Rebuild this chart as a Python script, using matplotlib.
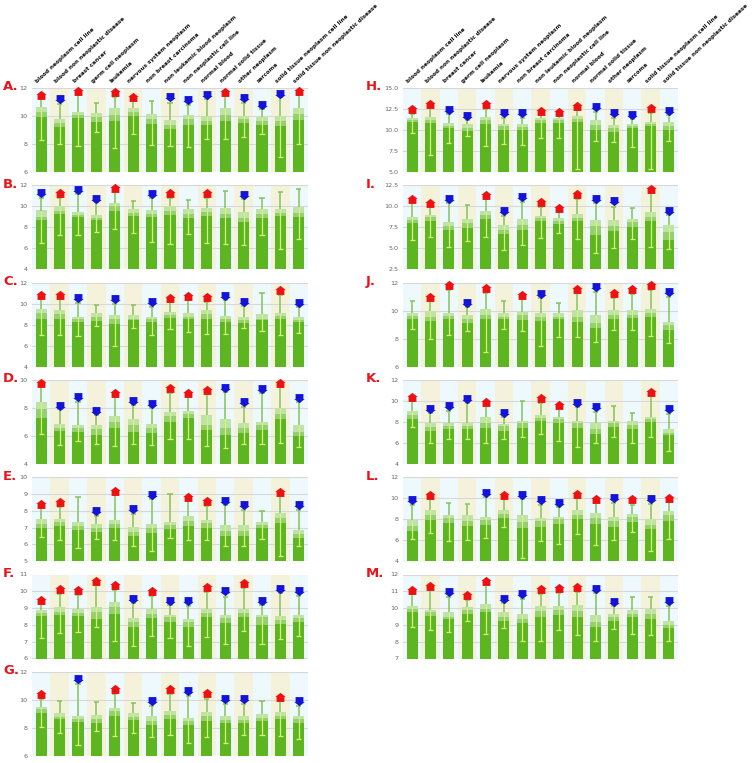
import numpy as np
import matplotlib
matplotlib.use("Agg")
import matplotlib.pyplot as plt
from matplotlib.path import Path

categories = ["blood neoplasm cell line", "blood non neoplastic disease", "breast cancer",
              "germ cell neoplasm", "leukemia", "nervous system neoplasm",
              "non breast carcinoma", "non leukemic blood neoplasm", "non neoplastic cell line",
              "normal blood", "normal solid tissue", "other neoplasm", "sarcoma",
              "solid tissue neoplasm cell line", "solid tissue non neoplastic disease"]

panel_letters = ["A.", "B.", "C.", "D.", "E.", "F.", "G.", "H.", "I.", "J.", "K.", "L.", "M."]
y_lo = [6, 4, 4, 4, 5, 6, 6, 5, 2.5, 6, 4, 4, 7]
y_hi = [12, 12, 12, 10, 10, 11, 12, 15, 12.5, 12, 12, 12, 12]
y_step = [2, 2, 2, 2, 1, 1, 2, 2.5, 2.5, 2, 2, 2, 1]

# top of the dark green part of each bar
dark_top = [
    [9.91, 9.19, 9.84, 9.6, 9.62, 10.0, 9.43, 9.07, 9.38, 9.36, 9.62, 9.5, 9.36, 9.29, 9.72],
    [8.72, 9.3, 8.95, 8.65, 9.55, 9.1, 8.95, 9.17, 8.88, 9.1, 8.88, 8.46, 8.9, 9.04, 8.95],
    [8.5, 8.5, 8.25, 8.35, 8.1, 8.45, 8.25, 8.6, 8.55, 8.5, 8.25, 8.2, 8.4, 8.5, 8.25],
    [7.3, 6.35, 6.3, 6.05, 6.6, 6.3, 6.2, 7.0, 7.25, 6.45, 6.1, 6.2, 6.45, 7.2, 6.0],
    [7.0, 7.12, 6.88, 6.76, 7.0, 6.48, 6.66, 6.92, 7.12, 7.0, 6.48, 6.48, 7.0, 7.3, 6.36],
    [8.52, 8.56, 8.52, 8.38, 8.64, 7.88, 8.44, 8.2, 7.88, 8.48, 8.12, 8.48, 8.02, 8.08, 8.16],
    [9.08, 8.6, 8.41, 8.36, 8.84, 8.56, 8.17, 8.65, 8.22, 8.5, 8.36, 8.32, 8.46, 8.65, 8.36],
    [10.92, 10.84, 10.2, 9.88, 10.76, 10.04, 9.96, 10.84, 10.84, 10.92, 10.04, 9.8, 10.28, 10.52, 10.04],
    [8.06, 8.29, 7.18, 7.42, 8.53, 6.71, 7.18, 8.21, 7.9, 8.21, 6.55, 7.1, 7.58, 8.29, 5.93],
    [9.42, 9.27, 9.42, 9.13, 9.37, 9.37, 9.32, 9.27, 9.37, 9.18, 8.75, 9.42, 9.46, 9.51, 8.6],
    [8.31, 7.1, 7.29, 7.29, 7.41, 7.16, 7.41, 8.05, 7.86, 7.41, 6.84, 7.48, 7.29, 7.99, 6.71],
    [6.86, 7.94, 7.68, 7.37, 7.49, 8.13, 7.17, 7.3, 7.56, 8.06, 7.56, 7.3, 7.75, 7.11, 7.87],
    [9.74, 9.54, 9.34, 9.62, 9.74, 9.26, 9.14, 9.5, 9.58, 9.46, 8.9, 9.22, 9.46, 9.38, 8.79],
]

# top of the middle green part
mid_top = [
    [10.32, 9.5, 10.1, 9.94, 10.1, 10.27, 9.79, 9.36, 9.79, 9.62, 10.1, 9.77, 9.67, 9.62, 10.15],
    [9.0, 9.6, 9.2, 8.9, 10.0, 9.4, 9.3, 9.6, 9.3, 9.5, 9.3, 8.9, 9.3, 9.35, 9.35],
    [9.1, 9.0, 8.5, 8.75, 8.55, 8.55, 8.5, 8.9, 8.75, 9.0, 8.5, 8.45, 8.55, 8.8, 8.45],
    [7.9, 6.6, 6.55, 6.5, 7.0, 6.75, 6.55, 7.4, 7.55, 6.8, 6.55, 6.6, 6.8, 7.6, 6.3],
    [7.22, 7.36, 7.12, 7.0, 7.2, 6.76, 6.96, 7.16, 7.4, 7.26, 6.8, 6.8, 7.16, 7.6, 6.6],
    [8.72, 8.76, 8.72, 8.76, 9.04, 8.2, 8.64, 8.48, 8.16, 8.68, 8.4, 8.72, 8.48, 8.32, 8.4],
    [9.32, 8.79, 8.6, 8.65, 9.18, 8.75, 8.5, 8.89, 8.46, 8.84, 8.56, 8.56, 8.7, 8.84, 8.6],
    [11.16, 11.24, 10.52, 10.28, 11.24, 10.44, 10.36, 11.16, 11.16, 11.32, 10.6, 10.2, 10.52, 10.76, 10.44],
    [8.37, 8.69, 7.66, 7.98, 8.93, 7.18, 7.82, 8.61, 8.29, 8.61, 7.66, 7.66, 8.13, 8.77, 6.94],
    [9.61, 9.56, 9.61, 9.42, 9.7, 9.56, 9.66, 9.56, 9.56, 9.51, 9.08, 9.7, 9.7, 9.85, 8.94],
    [8.62, 7.48, 7.61, 7.61, 7.92, 7.61, 7.86, 8.37, 8.24, 7.92, 7.29, 7.86, 7.73, 8.24, 6.97],
    [7.37, 8.44, 8.13, 7.87, 7.94, 8.51, 7.75, 7.81, 8.0, 8.44, 8.13, 7.81, 8.19, 7.43, 8.38],
    [9.94, 9.78, 9.5, 9.86, 9.94, 9.46, 9.38, 9.82, 9.86, 9.82, 9.18, 9.46, 9.66, 9.66, 8.98],
]

# top of the pale green part (top of the bar)
light_top = [
    [10.63, 9.8, 10.32, 10.2, 10.56, 10.56, 10.13, 9.7, 10.1, 9.98, 10.56, 9.98, 9.96, 9.98, 10.56],
    [9.6, 10.0, 9.5, 9.2, 10.35, 9.7, 9.65, 10.0, 9.7, 9.8, 9.8, 9.5, 9.75, 9.7, 9.9],
    [9.45, 9.4, 8.75, 9.1, 8.9, 8.9, 8.7, 9.2, 9.1, 9.4, 8.8, 8.75, 9.0, 9.1, 8.75],
    [8.4, 6.85, 6.8, 6.75, 7.45, 7.2, 6.85, 7.7, 7.75, 7.5, 7.2, 6.95, 7.0, 8.0, 6.8],
    [7.52, 7.52, 7.32, 7.2, 7.46, 7.04, 7.24, 7.32, 7.68, 7.48, 7.16, 7.16, 7.36, 7.88, 6.84],
    [8.88, 9.04, 8.92, 9.08, 9.36, 8.44, 8.96, 8.56, 8.36, 8.96, 8.6, 8.96, 8.6, 8.52, 8.56],
    [9.51, 9.08, 8.84, 8.89, 9.42, 9.08, 8.84, 9.18, 8.7, 9.13, 8.84, 8.84, 8.99, 9.13, 8.84],
    [11.48, 11.56, 10.84, 10.68, 11.56, 10.76, 10.68, 11.4, 11.4, 11.64, 11.16, 10.6, 10.76, 11.0, 10.92],
    [8.77, 8.93, 8.13, 8.45, 9.4, 7.74, 8.45, 8.85, 8.61, 9.09, 8.37, 8.37, 8.53, 9.33, 7.74],
    [9.8, 9.94, 9.8, 9.7, 10.09, 9.8, 9.9, 9.8, 9.85, 10.04, 9.66, 10.04, 10.04, 10.09, 9.22],
    [9.07, 7.86, 7.92, 7.92, 8.43, 7.8, 8.11, 8.69, 8.43, 8.11, 7.86, 8.11, 8.11, 8.5, 7.29],
    [7.94, 8.89, 8.38, 8.38, 8.25, 8.89, 8.38, 8.13, 8.25, 8.89, 8.63, 8.25, 8.51, 8.0, 8.76],
    [10.13, 9.9, 9.74, 10.06, 10.25, 9.74, 9.66, 10.13, 10.1, 10.17, 9.58, 9.66, 9.86, 9.94, 9.26],
]

whisker_lo = [
    [8.3, 8.0, 7.87, 8.83, 7.68, 8.71, 7.94, 7.87, 7.8, 8.35, 8.38, 8.47, 8.69, 7.1, 8.0],
    [6.47, 7.3, 7.3, 7.6, 7.85, 7.5, 6.6, 6.45, 7.35, 6.5, 6.4, 6.3, 7.3, 5.9, 6.9],
    [7.05, 7.0, 6.9, 7.9, 6.0, 7.65, 7.0, 7.6, 7.3, 7.15, 7.15, 7.65, 7.4, 7.0, 7.2],
    [6.15, 5.35, 5.65, 5.4, 5.3, 5.45, 5.35, 5.75, 5.8, 5.3, 5.15, 5.45, 5.45, 5.5, 5.2],
    [6.44, 6.28, 5.8, 6.32, 6.28, 5.88, 5.6, 6.4, 6.28, 6.24, 5.92, 5.92, 6.32, 5.32, 5.92],
    [7.2, 7.52, 7.6, 7.86, 7.02, 6.72, 7.36, 7.2, 6.76, 7.28, 6.88, 7.64, 6.84, 7.16, 7.36],
    [8.03, 7.6, 6.74, 7.74, 7.41, 7.65, 7.36, 7.5, 6.88, 7.36, 6.88, 7.5, 7.5, 7.41, 7.22],
    [9.64, 7.08, 8.44, 9.32, 8.12, 8.36, 8.2, 9.08, 9.08, 5.32, 8.68, 8.6, 7.96, 5.4, 8.68],
    [5.99, 6.31, 5.2, 5.83, 6.39, 4.8, 5.44, 6.23, 6.87, 6.15, 4.4, 5.04, 6.07, 5.2, 4.88],
    [8.7, 7.98, 8.27, 8.51, 7.02, 8.7, 8.56, 7.5, 8.12, 8.12, 7.79, 8.6, 8.6, 8.22, 7.7],
    [7.54, 6.01, 6.33, 6.39, 6.01, 6.33, 6.52, 6.84, 6.14, 5.57, 5.95, 6.52, 5.95, 6.52, 5.25],
    [6.1, 6.73, 5.9, 6.03, 6.22, 7.3, 4.32, 5.97, 5.65, 6.6, 5.52, 6.03, 6.79, 4.95, 6.1],
    [8.87, 8.67, 8.59, 9.26, 8.43, 8.79, 8.07, 8.07, 8.71, 8.39, 8.03, 8.75, 8.43, 8.39, 8.07],
]

whisker_hi = [
    [11.2, 10.85, 11.55, 10.92, 11.35, 11.18, 11.1, 10.94, 10.8, 11.18, 11.52, 10.92, 10.51, 11.35, 11.47],
    [10.8, 10.8, 11.2, 10.4, 11.5, 10.5, 10.8, 10.8, 10.6, 10.8, 11.5, 10.7, 10.75, 11.4, 11.65],
    [10.4, 10.4, 10.1, 9.85, 10.0, 9.9, 9.7, 10.15, 10.35, 10.2, 10.3, 9.8, 11.05, 10.8, 9.7],
    [9.5, 7.9, 8.45, 7.5, 8.8, 8.2, 8.0, 9.05, 8.8, 9.05, 9.15, 8.1, 9.05, 9.5, 8.4],
    [8.2, 8.24, 8.84, 7.72, 8.96, 7.8, 8.68, 9.0, 8.56, 8.28, 8.32, 8.04, 7.96, 8.88, 8.04],
    [9.24, 9.84, 9.76, 10.36, 10.08, 9.28, 9.72, 9.16, 9.12, 9.96, 9.68, 10.2, 9.16, 9.88, 9.72],
    [10.04, 9.94, 11.14, 9.85, 10.42, 9.75, 9.56, 10.42, 10.28, 10.09, 9.7, 9.7, 9.94, 9.9, 9.56],
    [11.96, 12.6, 11.88, 11.24, 12.52, 11.48, 11.48, 11.8, 11.72, 12.36, 12.12, 11.48, 11.32, 12.04, 11.8],
    [10.52, 10.2, 10.44, 10.12, 10.91, 8.85, 10.52, 9.88, 9.33, 10.91, 10.36, 9.96, 9.8, 11.55, 8.93],
    [10.71, 10.66, 11.47, 10.23, 11.28, 10.66, 10.8, 10.9, 10.52, 11.28, 11.33, 10.9, 11.19, 11.47, 11.0],
    [10.03, 8.82, 9.07, 9.77, 9.52, 8.5, 10.03, 9.83, 9.33, 9.45, 8.94, 9.52, 8.88, 10.47, 8.75],
    [9.4, 9.9, 9.59, 9.46, 10.1, 9.9, 9.97, 9.33, 9.14, 10.03, 9.52, 9.59, 9.4, 9.46, 9.65],
    [10.81, 11.05, 10.69, 10.49, 11.36, 10.29, 10.57, 10.85, 10.89, 10.93, 10.89, 10.13, 10.65, 10.69, 10.13],
]

# arrow markers: u = up (red), d = down (blue), - = none
marker_dir = ["udu-uu-dddudddu", "duddu-du-u-d---", "uud-d-duuudd-ud", "udddudduuudddud",
              "uu-dudd-uudd-ud", "uuuuududdududdd", "u-d-u-dududd-ud", "uuddudduuudddud",
              "uud-udduuudd-ud", "-uudu-ud-uduuud", "udddud-uudd--ud", "du--duddduududu",
              "uuduudduuudd--d"]
marker_val = [
    [11.47, 11.18, 11.76, None, 11.7, 11.38, None, 11.33, 11.13, 11.5, 11.74, 11.28, 10.8, 11.6, 11.76],
    [11.25, 11.3, 11.55, 10.7, 11.7, None, 11.2, 11.25, None, 11.25, None, 11.1, None, None, None],
    [10.8, 10.85, 10.5, None, 10.4, None, 10.15, 10.55, 10.75, 10.65, 10.7, 10.2, None, 11.25, 10.1],
    [9.75, 8.15, 8.8, 7.8, 9.1, 8.5, 8.3, 9.4, 9.1, 9.3, 9.45, 8.45, 9.35, 9.75, 8.7],
    [8.42, 8.5, None, 8.0, 9.2, 8.08, 8.92, None, 8.8, 8.56, 8.6, 8.32, None, 9.12, 8.32],
    [9.48, 10.12, 10.08, 10.62, 10.36, 9.56, 10.04, 9.44, 9.4, 10.24, 10.0, 10.48, 9.44, 10.16, 10.04],
    [10.42, None, 11.47, None, 10.76, None, 9.9, 10.76, 10.6, 10.47, 10.09, 10.04, None, 10.23, 9.94],
    [12.52, 13.08, 12.36, 11.72, 13.08, 12.04, 12.04, 12.28, 12.12, 12.84, 12.68, 12.04, 11.8, 12.6, 12.28],
    [10.91, 10.44, 10.91, None, 11.39, 9.4, 11.07, 10.52, 9.8, 11.47, 10.91, 10.6, None, 12.02, 9.48],
    [None, 11.0, 11.81, 10.52, 11.62, None, 11.09, 11.19, None, 11.57, 11.67, 11.23, 11.52, 11.81, 11.33],
    [10.34, 9.2, 9.52, 10.15, 9.9, 8.82, None, 10.28, 9.58, 9.83, 9.39, None, None, 10.85, 9.2],
    [9.84, 10.35, None, None, 10.54, 10.29, 10.35, 9.84, 9.59, 10.41, 9.97, 10.03, 9.9, 9.9, 10.03],
    [11.09, 11.33, 10.97, 10.77, 11.64, 10.53, 10.85, 11.13, 11.17, 11.25, 11.13, 10.37, None, None, 10.41],
]

# arrow shapes (house-like)
up_arrow = Path([(-0.75, -0.85), (0.75, -0.85), (0.75, 0.1), (1.0, 0.1), (0.0, 0.9),
                 (-1.0, 0.1), (-0.75, 0.1), (-0.75, -0.85)], closed=True)
down_arrow = Path([(-0.75, 0.85), (0.75, 0.85), (0.75, -0.1), (1.0, -0.1), (0.0, -0.9),
                   (-1.0, -0.1), (-0.75, -0.1), (-0.75, 0.85)], closed=True)

W, H = 754, 763
fig = plt.figure(figsize=(W / 100, H / 100), dpi=100)
bg = ["#edf9fd", "#f5f2dc"]
col_left = [32, 403]
col_width = [276, 275]

x = np.arange(len(categories))
for p in range(13):
    c = 0 if p < 7 else 1
    r = p if p < 7 else p - 7
    top = 88 + 97.3 * r
    ax = fig.add_axes([col_left[c] / W, 1 - (top + 84) / H, col_width[c] / W, 84 / H])

    for j in x:
        ax.axvspan(j - 0.5, j + 0.5, color=bg[j % 2], lw=0, zorder=0)
    ticks = np.arange(y_lo[p], y_hi[p] + 1e-6, y_step[p])
    for t in ticks:
        ax.axhline(t, color="#d8d8d8", lw=0.8, zorder=1)

    d = np.array(dark_top[p])
    m = np.array(mid_top[p])
    lt = np.array(light_top[p])
    lo = np.array(whisker_lo[p])
    hi = np.array(whisker_hi[p])
    ax.bar(x, d - y_lo[p], bottom=y_lo[p], width=0.6, color="#5db51f", zorder=2)
    ax.bar(x, m - d, bottom=d, width=0.6, color="#95cf6e", zorder=2)
    ax.bar(x, lt - m, bottom=m, width=0.6, color="#bfe3a6", zorder=2)

    # whiskers: pale inside the bar, green above it
    ax.vlines(x, lo, lt, color="#d2f57e", lw=0.9, zorder=3)
    ax.hlines(lo, x - 0.14, x + 0.14, color="#d2f57e", lw=0.9, zorder=3)
    ax.vlines(x, lt, hi, color="#86c35a", lw=1.1, zorder=3)
    ax.hlines(hi, x - 0.14, x + 0.14, color="#86c35a", lw=1.1, zorder=3)

    for j in x:
        v = marker_val[p][j]
        if v is None:
            continue
        if marker_dir[p][j] == "u":
            ax.plot(j, v, marker=up_arrow, color="#ee1111", mew=0, ms=7.5,
                    zorder=5, clip_on=False)
        else:
            ax.plot(j, v, marker=down_arrow, color="#1414d8", mew=0, ms=7.5,
                    zorder=5, clip_on=False)

    ax.set_xlim(-0.5, len(categories) - 0.5)
    ax.set_ylim(y_lo[p], y_hi[p])
    ax.set_xticks([])
    ax.set_yticks(ticks)
    if y_step[p] == 2.5:
        ax.set_yticklabels(["%.1f" % t for t in ticks])
    else:
        ax.set_yticklabels(["%d" % t for t in ticks])
    ax.tick_params(axis="y", length=0, pad=3, labelsize=4.6, labelcolor="#666666")
    for s in ax.spines.values():
        s.set_visible(False)

    fig.text((3 if c == 0 else 366) / W, 1 - (top - 1) / H, panel_letters[p],
             color="#e8141c", fontsize=9.5, fontweight="bold", ha="left", va="center")

    if r == 0:
        for j, name in enumerate(categories):
            ax.annotate(name, xy=(j, y_hi[p]), xytext=(-2, 3), textcoords="offset points",
                        rotation=43, rotation_mode="anchor", ha="left", va="bottom",
                        fontsize=4.15, fontweight="bold", color="#111111",
                        annotation_clip=False)

fig.savefig("out.png", dpi=100)
